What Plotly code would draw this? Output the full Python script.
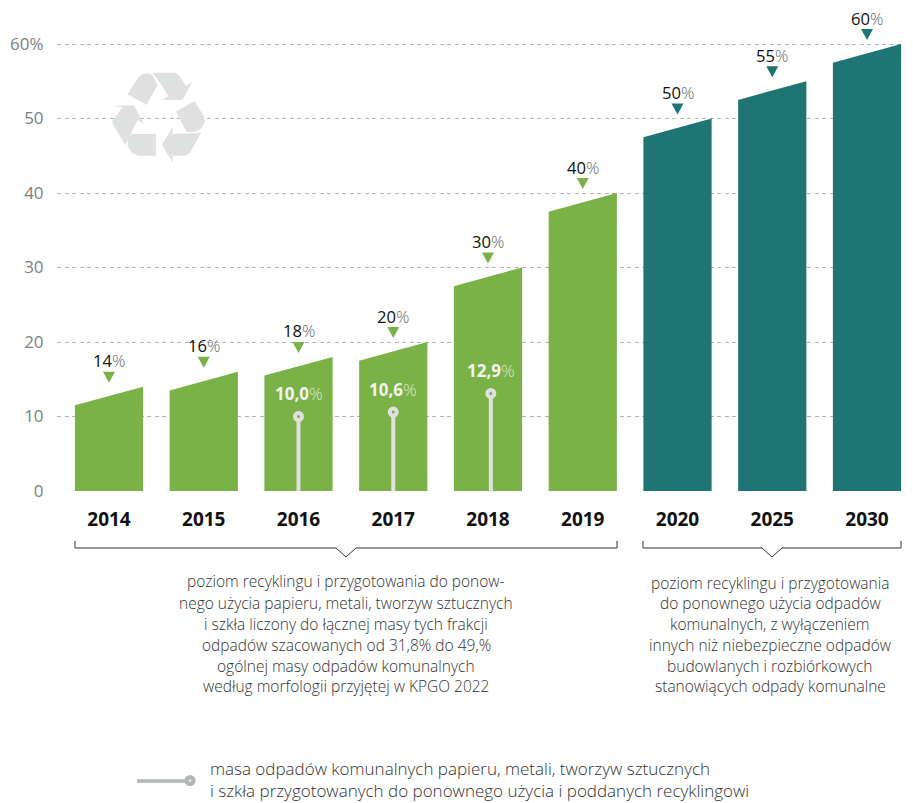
import plotly.graph_objects as go

years = ["2014", "2015", "2016", "2017", "2018", "2019", "2020", "2025", "2030"]
targets = [14, 16, 18, 20, 30, 40, 50, 55, 60]
target_labels = ["14", "16", "18", "20", "30", "40", "50", "55", "60"]
bar_colors = ["#7ab247"] * 6 + ["#1f7573"] * 3

stem_pos = [2, 3, 4.03]
stem_values = [10.0, 10.6, 13.1]
stem_labels = ["10,0", "10,6", "12,9"]

y_ticks = [0, 10, 20, 30, 40, 50, 60]
y_tick_labels = ["0", "10", "20", "30", "40", "50", "60%"]

note_left = ["poziom recyklingu i przygotowania do ponow-",
             "nego użycia papieru, metali, tworzyw sztucznych",
             "i szkła liczony do łącznej masy tych frakcji",
             "odpadów szacowanych od 31,8% do 49,%",
             "ogólnej masy odpadów komunalnych",
             "według morfologii przyjętej w KPGO 2022"]
note_right = ["poziom recyklingu i przygotowania",
              "do ponownego użycia odpadów",
              "komunalnych, z wyłączeniem",
              "innych niż niebezpieczne odpadów",
              "budowlanych i rozbiórkowych",
              "stanowiących odpady komunalne"]
legend_lines = ["masa odpadów komunalnych papieru, metali, tworzyw sztucznych",
                "i szkła przygotowanych do ponownego użycia i poddanych recyklingowi"]

OFF = 8  # the page's own margin
W, H = 913 - OFF, 803 - OFF
L, R, T, B = 57 - OFF, 905 - OFF, 0, 491 - OFF
FONT = "Open Sans"
GREY = "#66696d"
SLANT = 2.5
HALF = 0.36
X0, DX = 109 - OFF, 94.75
Y_PX = 447 / 60


def px(x):
    return (x - OFF - L) / (R - L)


def py(y):
    return (B - (y - OFF)) / (B - T)


fig = go.Figure()
shapes = []

for i, (v, c) in enumerate(zip(targets, bar_colors)):
    fig.add_trace(go.Scatter(
        x=[i - HALF, i - HALF, i + HALF, i + HALF, i - HALF],
        y=[0, v - SLANT, v, 0, 0],
        mode="lines", fill="toself", fillcolor=c,
        line=dict(width=0, color=c), hoverinfo="skip", showlegend=False))

for i, v in enumerate(targets):
    shapes.append(dict(type="path", xref="x", yref="y",
                       xsizemode="pixel", ysizemode="pixel", xanchor=i, yanchor=v,
                       path="M -6,15 L 6,15 L 0,4 Z",
                       fillcolor=bar_colors[i], line=dict(width=0)))
    fig.add_annotation(
        x=i, y=v, yshift=26, xref="x", yref="y", showarrow=False,
        text=f'<span style="color:#111">{target_labels[i]}</span><span style="color:{GREY};font-weight:300">%</span>',
        font=dict(family=FONT, size=16.6))

for xp, v, lab in zip(stem_pos, stem_values, stem_labels):
    fig.add_trace(go.Scatter(
        x=[xp, xp], y=[-0.4, v], mode="lines",
        line=dict(color="#dfe1e1", width=4), hoverinfo="skip", showlegend=False))
    fig.add_trace(go.Scatter(
        x=[xp], y=[v], mode="markers",
        marker=dict(symbol="circle", size=7, color="#7ab247",
                    line=dict(color="#dfe1e1", width=4)),
        hoverinfo="skip", showlegend=False))
    fig.add_annotation(
        x=xp, y=v, yshift=23, xref="x", yref="y", showarrow=False,
        text=f'<b style="color:#f2f5ee">{lab}</b><span style="color:#dfe8d2;font-weight:300">%</span>',
        font=dict(family=FONT, size=17))

# break in the 50 gridline behind the icon
shapes.append(dict(type="rect", xref="paper", yref="paper", layer="below",
                   x0=px(83), x1=px(232), y0=py(125), y1=py(113),
                   fillcolor="white", line=dict(width=0)))

# recycling icon
icon = [
    [(383, 283), (415, 232), (428, 222), (445, 220), (458, 226), (472, 255), (440, 315)],
    [(457, 218), (525, 218), (537, 225), (558, 258), (577, 245), (547, 300), (485, 300), (505, 288), (480, 248)],
    [(528, 335), (583, 303), (610, 345), (615, 365), (605, 385), (585, 396), (560, 396)],
    [(603, 398), (570, 458), (555, 467), (518, 467), (518, 488), (486, 435), (518, 380), (518, 402)],
    [(468, 402), (468, 467), (415, 467), (395, 458), (383, 438), (383, 418), (395, 402)],
    [(338, 318), (402, 316), (432, 372), (413, 360), (376, 435), (338, 372), (337, 362), (368, 322)],
]
for poly in icon:
    path = "M " + " L ".join(f"{px(a / 3):.5f},{py(b / 3):.5f}" for a, b in poly) + " Z"
    shapes.append(dict(type="path", xref="paper", yref="paper", path=path, layer="above",
                       fillcolor="#dfe1e0", line=dict(width=0)))


def bracket(x0, xm, x1):
    yt, yb = 541, 548
    pts = [(x0, yt), (x0, yb), (xm - 10, yb), (xm, 557), (xm + 10, yb), (x1, yb), (x1, yt)]
    path = "M " + " L ".join(f"{px(a):.5f},{py(b):.5f}" for a, b in pts)
    shapes.append(dict(type="path", xref="paper", yref="paper", path=path,
                       line=dict(color="#333333", width=1)))


bracket(75, 346, 617)
bracket(643, 772, 901)

# legend key
shapes.append(dict(type="line", xref="paper", yref="paper",
                   x0=px(137), x1=px(188), y0=py(781), y1=py(781),
                   line=dict(color="#b0b5b5", width=3.5)))
shapes.append(dict(type="circle", xref="paper", yref="paper",
                   x0=px(186.5), x1=px(193.5), y0=py(784), y1=py(777),
                   fillcolor="#e8eaea", line=dict(color="#b0b5b5", width=4)))

for line, yp in zip(note_left, [581, 603, 624, 645, 666, 686]):
    fig.add_annotation(x=px(346), y=py(yp), xref="paper", yref="paper", showarrow=False,
                       text=line, xanchor="center", yanchor="middle",
                       font=dict(family=FONT, size=15.5, color="#333333", weight=300))
for line, yp in zip(note_right, [583, 603, 624, 645, 666, 686]):
    fig.add_annotation(x=px(770), y=py(yp), xref="paper", yref="paper", showarrow=False,
                       text=line, xanchor="center", yanchor="middle",
                       font=dict(family=FONT, size=15.5, color="#333333", weight=300))
for line, yp in zip(legend_lines, [768, 791]):
    fig.add_annotation(x=px(208), y=py(yp), xref="paper", yref="paper", showarrow=False,
                       text=line, xanchor="left", yanchor="middle",
                       font=dict(family=FONT, size=17, color="#333333", weight=300))

fig.update_layout(
    width=W, height=H, autosize=False,
    margin=dict(l=L, r=W - R, t=T, b=H - B, pad=0),
    plot_bgcolor="white", paper_bgcolor="white", showlegend=False,
    shapes=shapes,
    xaxis=dict(range=[(L - X0) / DX, (R - X0) / DX], tickmode="array",
               tickvals=list(range(len(years))), ticktext=[f"<b>{y}</b>" for y in years],
               showgrid=False, zeroline=False, showline=False,
               ticks="outside", ticklen=11, tickcolor="rgba(0,0,0,0)",
               tickfont=dict(family=FONT, size=19, color="#111111")),
    yaxis=dict(range=[0, (B - T) / Y_PX], tickmode="array", tickvals=y_ticks,
               ticktext=y_tick_labels, showgrid=True, griddash="4px,3.5px",
               gridcolor="#b4b4b4", gridwidth=1, zeroline=False, showline=False,
               ticks="outside", ticklen=9, tickcolor="rgba(0,0,0,0)",
               tickfont=dict(family=FONT, size=17, color="#7d8084")),
)
fig.write_html("out.html")
